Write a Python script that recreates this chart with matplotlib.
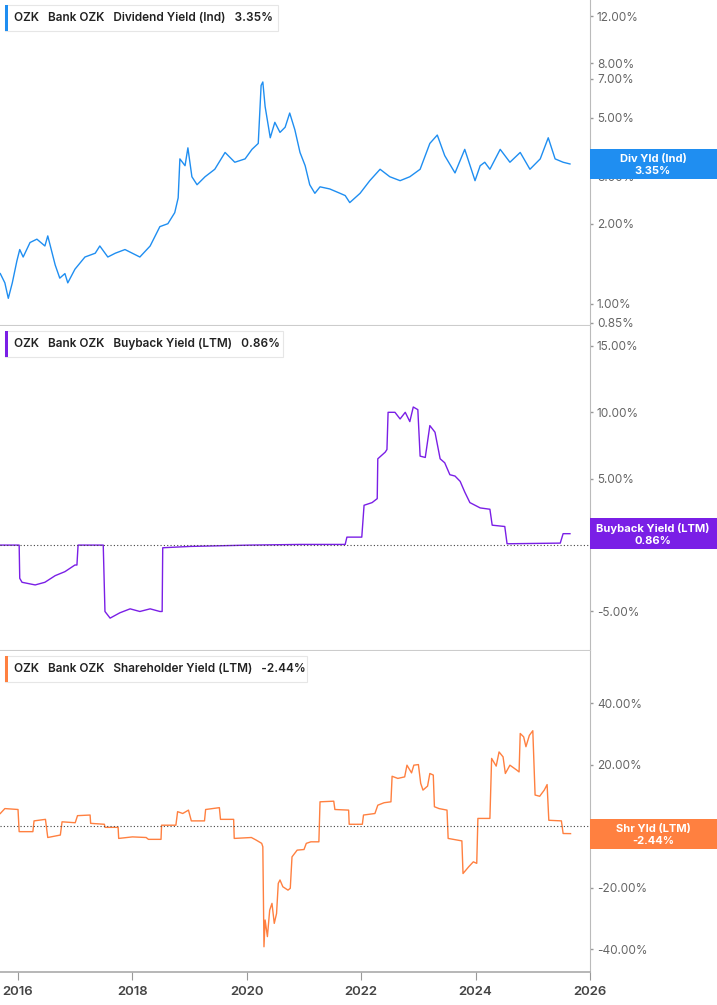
import matplotlib
matplotlib.use("Agg")
import matplotlib.pyplot as plt
from matplotlib.patches import Rectangle
from matplotlib.ticker import FixedLocator, FuncFormatter, NullLocator

# ---------------- data ----------------
div_years = [2015.69,2015.77,2015.83,2015.90,2015.98,2016.03,2016.09,2016.21,2016.33,2016.47,2016.52,2016.65,2016.73,2016.82,2016.87,2016.995,2017.17,2017.35,2017.43,2017.57,2017.70,2017.87,2018.13,2018.31,2018.48,2018.62,2018.74,2018.80,2018.83,2018.92,2018.97,2019.04,2019.13,2019.27,2019.44,2019.62,2019.79,2019.97,2020.09,2020.20,2020.25,2020.28,2020.32,2020.41,2020.49,2020.58,2020.67,2020.75,2020.84,2020.93,2021.02,2021.10,2021.19,2021.28,2021.45,2021.63,2021.72,2021.80,2021.98,2022.15,2022.33,2022.50,2022.68,2022.85,2023.03,2023.20,2023.33,2023.46,2023.64,2023.81,2023.99,2024.08,2024.16,2024.25,2024.43,2024.60,2024.78,2024.95,2025.13,2025.27,2025.39,2025.53,2025.65]
div_vals = [1.3,1.2,1.05,1.2,1.45,1.6,1.5,1.7,1.75,1.65,1.8,1.4,1.25,1.3,1.2,1.35,1.5,1.55,1.65,1.5,1.55,1.6,1.5,1.65,1.95,2.0,2.2,2.5,3.5,3.3,3.85,3.0,2.8,3.0,3.2,3.7,3.4,3.5,3.8,4.0,6.6,6.8,5.5,4.2,4.8,4.4,4.6,5.2,4.5,3.7,3.3,2.8,2.6,2.75,2.7,2.6,2.55,2.4,2.6,2.9,3.2,3.0,2.9,3.0,3.2,4.0,4.3,3.6,3.1,3.8,2.9,3.3,3.4,3.2,3.8,3.4,3.7,3.2,3.5,4.2,3.5,3.4,3.35]

bb_years = [2015.69,2016.02,2016.03,2016.07,2016.30,2016.47,2016.65,2016.82,2016.995,2017.03,2017.05,2017.49,2017.52,2017.61,2017.78,2017.96,2018.13,2018.31,2018.48,2018.52,2018.53,2019.01,2020.06,2020.93,2021.72,2021.75,2022.01,2022.05,2022.19,2022.28,2022.29,2022.42,2022.45,2022.47,2022.59,2022.68,2022.77,2022.85,2022.91,2022.99,2023.03,2023.12,2023.20,2023.29,2023.38,2023.46,2023.55,2023.64,2023.73,2023.81,2023.90,2023.99,2024.08,2024.25,2024.29,2024.51,2024.55,2025.48,2025.53,2025.65]
bb_vals = [0.0,0.0,-2.5,-2.8,-3.0,-2.8,-2.3,-2.0,-1.5,-1.5,0.0,0.0,-5.0,-5.5,-5.1,-4.8,-5.0,-4.8,-5.0,-5.0,-0.2,-0.1,0.0,0.05,0.05,0.6,0.6,3.0,3.2,3.5,6.5,7.0,7.2,10.0,10.0,9.5,10.0,9.3,10.4,10.2,6.7,6.6,9.0,8.5,6.5,6.2,5.3,5.2,4.8,4.0,3.2,3.0,2.8,2.7,1.5,1.4,0.1,0.15,0.86,0.86]

sh_years = [2015.69,2015.77,2016.00,2016.02,2016.26,2016.28,2016.48,2016.52,2016.74,2016.77,2017.00,2017.04,2017.26,2017.27,2017.51,2017.52,2017.75,2017.76,2018.00,2018.24,2018.28,2018.50,2018.51,2018.76,2018.79,2018.88,2018.98,2019.03,2019.26,2019.28,2019.52,2019.54,2019.77,2019.78,2020.08,2020.16,2020.26,2020.28,2020.30,2020.32,2020.36,2020.40,2020.44,2020.48,2020.52,2020.55,2020.58,2020.63,2020.72,2020.76,2020.79,2020.88,2021.00,2021.04,2021.12,2021.26,2021.28,2021.52,2021.54,2021.78,2021.79,2022.02,2022.04,2022.24,2022.29,2022.40,2022.52,2022.54,2022.64,2022.76,2022.80,2022.88,2022.92,2023.00,2023.04,2023.08,2023.16,2023.20,2023.26,2023.28,2023.36,2023.50,2023.52,2023.76,2023.78,2023.88,2023.96,2024.02,2024.04,2024.25,2024.28,2024.36,2024.41,2024.48,2024.52,2024.60,2024.72,2024.76,2024.78,2024.84,2024.88,2024.94,2025.00,2025.04,2025.12,2025.20,2025.25,2025.28,2025.50,2025.53,2025.66]
sh_vals = [4.1,5.7,5.4,-1.8,-1.8,1.7,2.2,-3.7,-2.9,1.4,1.1,3.4,3.6,0.9,0.6,-0.4,-0.4,-4.0,-3.5,-3.7,-4.3,-4.3,0.3,0.3,4.7,4.1,5.2,1.7,1.7,5.4,6.0,2.2,2.2,-4.0,-3.7,-4.5,-5.6,-6.7,-39.2,-30.5,-35.9,-27.3,-25.1,-31.6,-28.4,-18.6,-17.5,-19.7,-20.8,-20.2,-10.0,-7.8,-7.6,-5.6,-5.1,-5.1,7.9,8.1,5.4,5.2,0.6,0.6,3.6,4.1,6.8,7.6,7.9,16.2,15.5,16.0,19.8,17.3,19.8,20.0,13.9,11.7,13.0,17.1,16.6,6.3,5.7,5.2,-4.0,-4.8,-15.4,-13.2,-11.6,-12.1,2.5,2.5,22.0,19.5,24.1,22.5,17.1,19.8,18.2,17.6,30.1,29.0,25.8,29.5,31.0,10.1,9.7,11.7,13.5,1.9,1.7,-2.4,-2.44]

year_ticks = [2016, 2018, 2020, 2022, 2024, 2026]
div_ticks = [0.85, 1, 2, 3, 5, 7, 8, 12]
bb_ticks = [-5, 5, 10, 15]
sh_ticks = [-40, -20, 20, 40]

BLUE = "#1f8ef1"
PURPLE = "#7a1fe6"
ORANGE = "#ff8040"
GRAY = "#666666"

plt.rcParams["font.family"] = "Inter"

W, H = 717, 1005
fig = plt.figure(figsize=(W / 100, H / 100), dpi=100)

def frac(px_top, px_bot):
    return 1 - px_bot / H, (px_bot - px_top) / H

AX_R = 590 / W
panels = [(0, 325), (326, 650), (651, 972)]

def style(ax, ticks, fmt):
    ax.set_xlim(2015.685, 2026.0)
    ax.yaxis.tick_right()
    ax.yaxis.set_major_locator(FixedLocator(ticks))
    ax.yaxis.set_minor_locator(NullLocator())
    ax.yaxis.set_major_formatter(FuncFormatter(fmt))
    ax.tick_params(axis="y", length=2, width=1, color="#999999", labelsize=8.5,
                   labelcolor=GRAY, pad=3)
    for s in ["top", "left"]:
        ax.spines[s].set_visible(False)
    ax.spines["right"].set_color("#bbbbbb")
    ax.spines["bottom"].set_color("#cccccc")
    ax.set_facecolor("white")

pct = lambda v, p: f"{v:.2f}%"

def legend(ax, color, parts, width_px):
    h = 26
    ax.add_patch(Rectangle((5 / 590, 1 - 31 / 320), width_px / 590, h / 320,
                           transform=ax.transAxes, facecolor="white",
                           edgecolor="#e6e6e6", lw=0.8, zorder=5))
    ax.add_patch(Rectangle((5 / 590, 1 - 31 / 320), 3 / 590, h / 320,
                           transform=ax.transAxes, facecolor=color,
                           edgecolor="none", zorder=6))
    ax.text(14 / 590, 1 - 18 / 320, parts, transform=ax.transAxes,
            fontsize=8.5, fontweight="semibold", color="#222222",
            va="center", ha="left", zorder=7)

def value_box(ax, yval, color, l1, l2):
    y_ax = ax.transAxes.inverted().transform(ax.transData.transform((2020, yval)))[1]
    ax.add_patch(Rectangle((1.0, y_ax - 15 / 320), 127 / 590, 30 / 320,
                           transform=ax.transAxes, facecolor=color,
                           edgecolor="none", clip_on=False, zorder=10))
    ax.text(1 + 63 / 590, y_ax + 5 / 320, l1, transform=ax.transAxes,
            color="white", fontsize=8, fontweight="bold", ha="center",
            va="center", zorder=11)
    ax.text(1 + 63 / 590, y_ax - 7 / 320, l2, transform=ax.transAxes,
            color="white", fontsize=8, fontweight="bold", ha="center",
            va="center", zorder=11)

# top
b, h = frac(*panels[0])
ax1 = fig.add_axes([0, b, AX_R, h])
ax1.plot(div_years, div_vals, color=BLUE, lw=1.0)
ax1.set_yscale("log")
ax1.set_ylim(0.834, 13.8)
style(ax1, div_ticks, pct)
ax1.set_xticks([])
legend(ax1, BLUE, "OZK   Bank OZK   Dividend Yield (Ind)   3.35%", 273)
value_box(ax1, 3.35, BLUE, "Div Yld (Ind)", "3.35%")

# middle
b, h = frac(*panels[1])
ax2 = fig.add_axes([0, b, AX_R, h])
ax2.plot(bb_years, bb_vals, color=PURPLE, lw=1.0)
ax2.axhline(0, color="#444444", lw=0.8, ls=(0, (1, 2)))
ax2.set_ylim(-7.9, 16.5)
style(ax2, bb_ticks, pct)
ax2.set_xticks([])
legend(ax2, PURPLE, "OZK   Bank OZK   Buyback Yield (LTM)   0.86%", 278)
value_box(ax2, 0.86, PURPLE, "Buyback Yield (LTM)", "0.86%")
ax2.text(1 + 3 / 590, ax2.transAxes.inverted().transform(ax2.transData.transform((2020, 0)))[1],
         "0.00%", transform=ax2.transAxes, fontsize=8.5, color=GRAY, va="center", zorder=9)

# bottom
b, h = frac(*panels[2])
ax3 = fig.add_axes([0, b, AX_R, h])
ax3.plot(sh_years, sh_vals, color=ORANGE, lw=1.0)
ax3.axhline(0, color="#444444", lw=0.8, ls=(0, (1, 2)))
ax3.set_ylim(-47.4, 56.9)
style(ax3, sh_ticks, pct)
ax3.set_xticks(year_ticks)
ax3.set_xticklabels([str(y) for y in year_ticks])
ax3.tick_params(axis="x", length=6, color="#999999", labelsize=9.5,
                labelcolor="#444444", pad=4)
for lab in ax3.get_xticklabels():
    lab.set_fontweight("semibold")
ax3.spines["bottom"].set_color("#aaaaaa")
ax3.spines["bottom"].set_linewidth(1.2)
legend(ax3, ORANGE, "OZK   Bank OZK   Shareholder Yield (LTM)   -2.44%", 302)
value_box(ax3, -2.44, ORANGE, "Shr Yld (LTM)", "-2.44%")

fig.savefig("out.png", dpi=100, facecolor="white")
